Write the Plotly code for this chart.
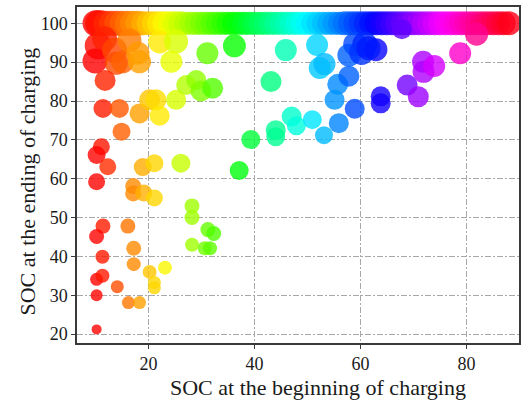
import plotly.graph_objects as go

# State of charge (%) when a charging session starts and ends, plus bubble size per session
soc_start = [
    # sessions that finished full (100 %)
    10, 10.5, 11, 12, 13, 14, 15, 16, 17, 18, 19, 20, 21, 22, 23, 24, 25, 26, 27, 28,
    29, 30, 31, 32, 33, 34, 35, 36, 37, 38, 39, 40, 41, 42, 43, 44, 45, 46, 47, 48,
    49, 50, 51, 52, 53, 54, 55, 56, 57, 58, 59, 60, 61, 62, 63, 64, 65, 66, 67, 68,
    69, 70, 71, 72, 73, 74, 75, 76, 77, 78, 79, 80, 81, 82, 83, 84, 85, 86, 87, 88,
    # high end-SOC sessions
    10.5, 11.7, 9.9, 13.6, 13.9, 15.1, 16.4, 18.0, 18.3, 11.8,
    22.1, 25.2, 24.3, 31.1, 36.2, 45.9, 51.8, 52.3, 53.2,
    57.8, 59.0, 60.8, 60.2, 62.9, 61.5,
    67.8, 71.8, 71.9, 73.9, 78.8, 81.9,
    # mid range
    11.4, 14.5, 18.3, 20.2, 21.4, 22.1, 25.2,
    27.1, 29.0, 29.9, 32.1, 43.1, 55.7, 57.8, 55.1, 58.9,
    63.8, 63.8, 68.8, 70.9,
    14.9, 11.1, 10.2, 12.3, 10.2, 18.9, 21.1, 26.1,
    37.1, 39.3, 44.0, 44.0, 47.0, 47.9, 50.9, 53.1, 55.9,
    17.1, 17.1, 19.1, 21.1,
    # low end-SOC sessions
    28.2, 28.2, 11.4, 10.2, 16.1, 11.3, 17.2, 17.2, 10.2, 11.3, 14.1, 10.2,
    16.2, 18.3, 20.2, 21.1, 21.1, 23.1, 28.2, 30.6, 31.6, 31.2, 32.3, 10.2,
]

soc_end = [
    100, 100, 100, 100, 100, 100, 100, 100, 100, 100, 100, 100, 100, 100, 100, 100, 100, 100, 100, 100,
    100, 100, 100, 100, 100, 100, 100, 100, 100, 100, 100, 100, 100, 100, 100, 100, 100, 100, 100, 100,
    100, 100, 100, 100, 100, 100, 100, 100, 100, 100, 100, 100, 100, 100, 100, 100, 100, 100, 100, 100,
    100, 100, 100, 100, 100, 100, 100, 100, 100, 100, 100, 100, 100, 100, 100, 100, 100, 100, 100, 100,
    94.2, 96.0, 90.3, 93.1, 89.7, 90.1, 95.6, 92.3, 90.1, 85.3,
    95.2, 95.3, 90.1, 92.3, 94.2, 93.1, 94.4, 88.5, 89.5,
    91.8, 94.6, 94.6, 92.5, 93.2, 93.6,
    98.5, 90.1, 87.5, 89.0, 92.3, 97.2,
    78.1, 78.1, 76.8, 80.3, 80.3, 76.2, 80.3,
    84.1, 85.4, 82.6, 83.3, 85.0, 84.3, 86.4, 80.3, 78.0,
    81.2, 79.4, 84.1, 81.1,
    72.1, 68.2, 66.1, 63.1, 59.2, 63.0, 64.0, 64.0,
    62.1, 70.1, 72.5, 70.8, 76.0, 73.6, 75.2, 71.2, 74.3,
    58.1, 56.2, 56.3, 55.0,
    53.0, 50.0, 47.8, 45.1, 47.8, 39.9, 42.1, 38.0, 34.1, 35.0, 32.2, 30.0,
    28.1, 28.1, 36.0, 33.3, 31.9, 37.1, 43.0, 42.1, 42.1, 46.9, 45.9, 21.2,
]

bubble_size = [
    26, 26, 26, 25, 25, 25, 25, 25, 25, 25, 24, 24, 24, 24, 24, 24, 24, 24, 23, 23,
    23, 23, 23, 23, 23, 23, 23, 23, 23, 23, 23, 23, 23, 23, 23, 23, 23, 23, 23, 23,
    23, 23, 23, 23, 23, 23, 23, 23, 24, 24, 24, 24, 24, 24, 24, 24, 24, 24, 24, 24,
    24, 24, 24, 24, 24, 24, 24, 24, 24, 24, 24, 24, 24, 24, 24, 24, 24, 24, 24, 24,
    27, 25, 25, 25, 23, 23, 24, 23, 23, 21,
    23, 24, 22, 22, 23, 22, 22, 22, 22,
    23, 24, 25, 25, 23, 24,
    20, 22, 22, 22, 22, 23,
    19, 19, 20, 21, 21, 20, 20,
    20, 20, 21, 21, 21, 21, 21, 20, 20,
    20, 20, 21, 21,
    18, 17, 18, 17, 17, 18, 18, 19,
    19, 19, 20, 19, 20, 19, 19, 18, 20,
    16, 16, 17, 17,
    15, 15, 15, 15, 15, 14, 15, 14, 13, 14, 13, 12,
    13, 13, 14, 13, 13, 14, 14, 14, 14, 15, 15, 10,
]

x_ticks = [20, 40, 60, 80]
y_ticks = [20, 30, 40, 50, 60, 70, 80, 90, 100]

# hue wheel (red -> yellow -> green -> cyan -> blue -> magenta -> red)
hsv_scale = [
    [0.0, "#ff0000"],
    [0.15873, "#ffef00"],
    [0.174603, "#f7ff00"],
    [0.333333, "#08ff00"],
    [0.349206, "#00ff10"],
    [0.507937, "#00ffff"],
    [0.666667, "#0010ff"],
    [0.68254, "#0800ff"],
    [0.84127, "#f700ff"],
    [0.857143, "#ff00ef"],
    [1.0, "#ff0018"],
]

fig = go.Figure(
    go.Scatter(
        x=soc_start,
        y=soc_end,
        mode="markers",
        marker=dict(
            size=bubble_size,
            sizemode="diameter",
            color=soc_start,
            colorscale=hsv_scale,
            cmin=10,
            cmax=88,
            opacity=0.8,
            line=dict(width=0),
        ),
        hoverinfo="x+y",
    )
)

serif = "Liberation Serif, Times New Roman, serif"
grid_style = dict(
    showgrid=True,
    gridcolor="#a8a8a8",
    gridwidth=1,
    griddash="6px,2px,2px,2px",
    showline=True,
    linecolor="#3a3a3a",
    linewidth=1.5,
    mirror=True,
    ticks="outside",
    ticklen=4,
    tickwidth=1,
    tickcolor="#3a3a3a",
    tickfont=dict(family=serif, size=18, color="#1a1a1a"),
    zeroline=False,
)

fig.update_xaxes(range=[6.5, 89.9], tickvals=x_ticks, **grid_style)
fig.update_yaxes(range=[17.7, 104.2], tickvals=y_ticks, **grid_style)

fig.update_layout(
    width=523,
    height=400,
    margin=dict(l=77, r=2, t=7, b=57),
    plot_bgcolor="white",
    paper_bgcolor="white",
    showlegend=False,
    font=dict(family=serif, color="#1a1a1a"),
    annotations=[
        dict(
            text="SOC at the beginning of charging",
            xref="paper", yref="paper",
            x=0.545, y=-0.132,
            xanchor="center", yanchor="middle",
            showarrow=False,
            font=dict(family=serif, size=22, color="#1a1a1a"),
        ),
        dict(
            text="SOC at the ending of charging",
            xref="paper", yref="paper",
            x=-0.112, y=0.482,
            xanchor="center", yanchor="middle",
            textangle=-90,
            showarrow=False,
            font=dict(family=serif, size=22, color="#1a1a1a"),
        ),
    ],
)

fig.write_html("out.html")
